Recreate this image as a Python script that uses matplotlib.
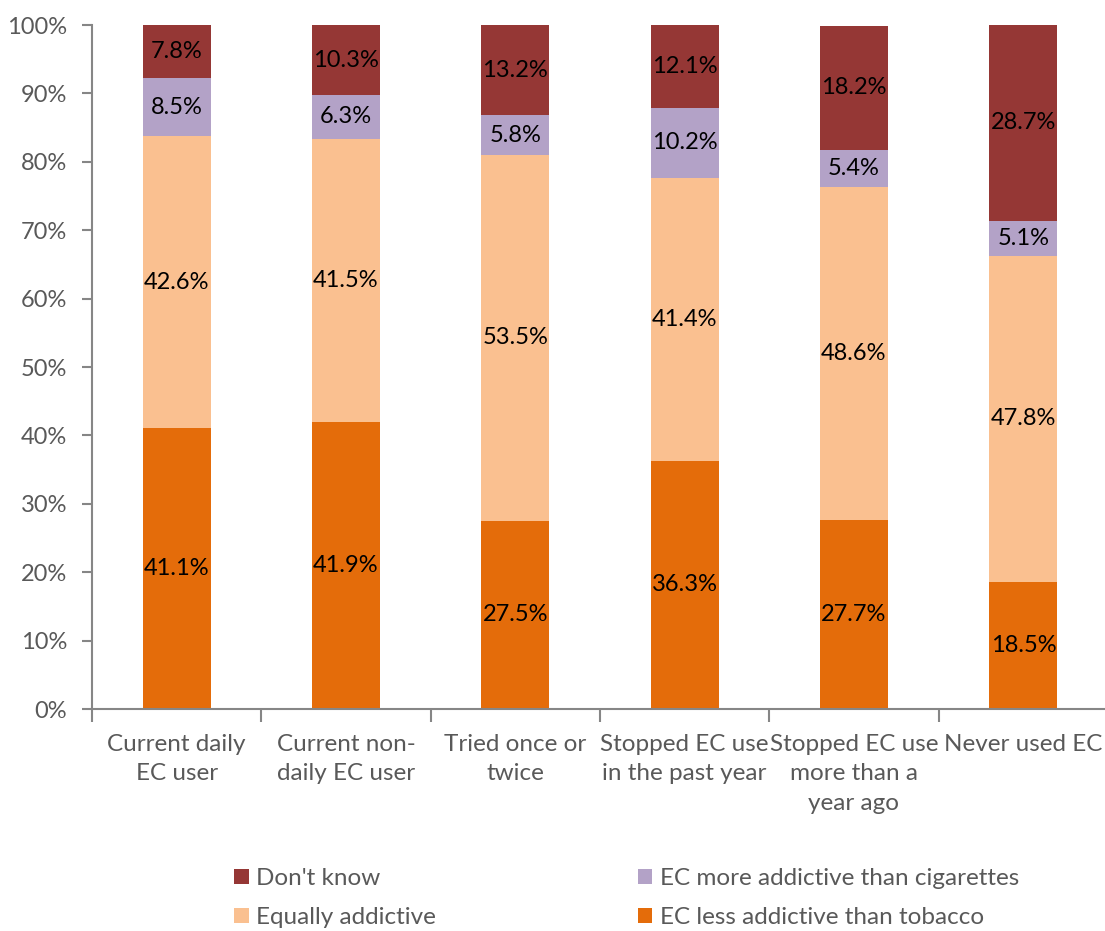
import matplotlib.pyplot as plt
import numpy as np

plt.rcParams['font.family'] = ['Lato', 'DejaVu Sans']

categories = ['Current daily\nEC user', 'Current non-\ndaily EC user', 'Tried once or\ntwice',
              'Stopped EC use\nin the past year', 'Stopped EC use\nmore than a\nyear ago', 'Never used EC']
less_addictive = [41.1, 41.9, 27.5, 36.3, 27.7, 18.5]
equally = [42.6, 41.5, 53.5, 41.4, 48.6, 47.8]
more_addictive = [8.5, 6.3, 5.8, 10.2, 5.4, 5.1]
dont_know = [7.8, 10.3, 13.2, 12.1, 18.2, 28.7]

series = [
    ("EC less addictive than tobacco", less_addictive, '#E46C0A'),
    ("Equally addictive", equally, '#FAC090'),
    ("EC more addictive than cigarettes", more_addictive, '#B3A2C7'),
    ("Don't know", dont_know, '#953735'),
]

fig = plt.figure(figsize=(11.05, 9.31), dpi=100)
ax = fig.add_axes([92 / 1105, 1 - 709 / 931, 1016 / 1105, 684 / 931])

x = np.arange(len(categories))
bottom = np.zeros(len(categories))
handles = {}
for name, vals, col in series:
    vals = np.array(vals)
    b = ax.bar(x, vals, 0.4, bottom=bottom, color=col, label=name)
    handles[name] = b
    for xi, v, bo in zip(x, vals, bottom):
        ax.text(xi, bo + v / 2, f'{v:.1f}%', ha='center', va='center', fontsize=17, color='black')
    bottom += vals

ax.set_xlim(-0.5, len(categories) - 0.5)
ax.set_ylim(0, 100)
ax.set_yticks(np.arange(0, 101, 10))
ax.set_yticklabels([f'{t}%' for t in range(0, 101, 10)])
ax.set_xticks(np.arange(-0.5, len(categories), 1.0))
ax.set_xticklabels([])
ax.set_xticks(x, minor=True)
ax.set_xticklabels(categories, minor=True, fontsize=17.5, color='#595959', linespacing=1.5)
ax.tick_params(axis='x', which='minor', length=0, pad=18)
ax.tick_params(axis='x', which='major', length=9, color='#868686', width=1.5)
ax.tick_params(axis='y', length=7, color='#868686', width=1.5, labelsize=17, labelcolor='#595959', pad=11)

for s in ['top', 'right']:
    ax.spines[s].set_visible(False)
for s in ['left', 'bottom']:
    ax.spines[s].set_color('#868686')
    ax.spines[s].set_linewidth(1.5)

order = ["Don't know", "Equally addictive", "EC more addictive than cigarettes", "EC less addictive than tobacco"]
leg = fig.legend([handles[n] for n in order], order, ncol=2, loc='center left',
                 bbox_to_anchor=(222 / 1105, 1 - 898 / 931), frameon=False, fontsize=17.5,
                 handlelength=0.6, handleheight=0.6, handletextpad=0.3, columnspacing=8.3,
                 labelspacing=0.75, labelcolor='#595959', borderpad=0)

fig.savefig('out.png', dpi=100)
